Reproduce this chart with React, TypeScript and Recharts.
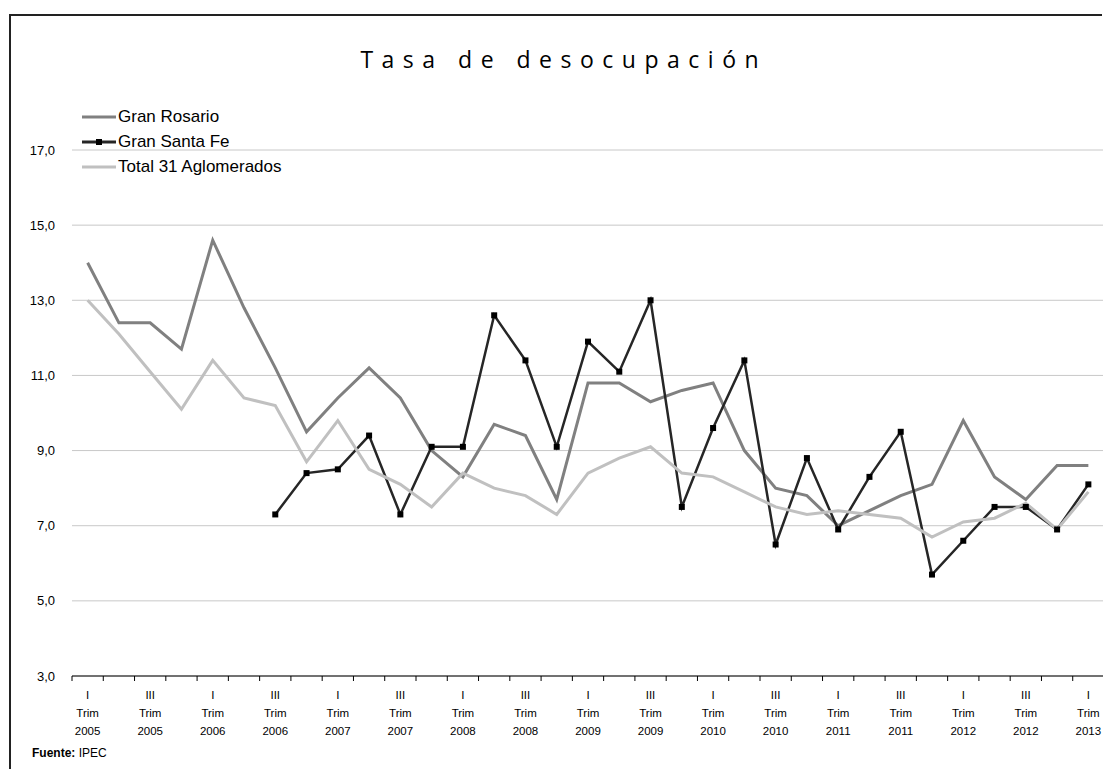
import React from "react";
import { LineChart, Line, XAxis, YAxis, CartesianGrid, Legend } from "recharts";

const categories = [
  "I Trim 2005", "II Trim 2005", "III Trim 2005", "IV Trim 2005",
  "I Trim 2006", "II Trim 2006", "III Trim 2006", "IV Trim 2006",
  "I Trim 2007", "II Trim 2007", "III Trim 2007", "IV Trim 2007",
  "I Trim 2008", "II Trim 2008", "III Trim 2008", "IV Trim 2008",
  "I Trim 2009", "II Trim 2009", "III Trim 2009", "IV Trim 2009",
  "I Trim 2010", "II Trim 2010", "III Trim 2010", "IV Trim 2010",
  "I Trim 2011", "II Trim 2011", "III Trim 2011", "IV Trim 2011",
  "I Trim 2012", "II Trim 2012", "III Trim 2012", "IV Trim 2012",
  "I Trim 2013",
];

const granRosario = [
  14.0, 12.4, 12.4, 11.7, 14.6, 12.8, 11.2, 9.5, 10.4, 11.2, 10.4, 9.0,
  8.3, 9.7, 9.4, 7.7, 10.8, 10.8, 10.3, 10.6, 10.8, 9.0, 8.0, 7.8,
  7.0, 7.4, 7.8, 8.1, 9.8, 8.3, 7.7, 8.6, 8.6,
];

const granSantaFe: (number | null)[] = [
  null, null, null, null, null, null, 7.3, 8.4, 8.5, 9.4, 7.3, 9.1,
  9.1, 12.6, 11.4, 9.1, 11.9, 11.1, 13.0, 7.5, 9.6, 11.4, 6.5, 8.8,
  6.9, 8.3, 9.5, 5.7, 6.6, 7.5, 7.5, 6.9, 8.1,
];

const total31 = [
  13.0, 12.1, 11.1, 10.1, 11.4, 10.4, 10.2, 8.7, 9.8, 8.5, 8.1, 7.5,
  8.4, 8.0, 7.8, 7.3, 8.4, 8.8, 9.1, 8.4, 8.3, 7.9, 7.5, 7.3,
  7.4, 7.3, 7.2, 6.7, 7.1, 7.2, 7.6, 6.9, 7.9,
];

const yTicks = [3, 5, 7, 9, 11, 13, 15, 17];

const data = categories.map((label, i) => ({
  label,
  rosario: granRosario[i],
  santaFe: granSantaFe[i],
  total: total31[i],
}));

const FONT = '"Liberation Sans", Arial, sans-serif';

const XTick = (props: any) => {
  const { x, y, payload, index, width, visibleTicksCount } = props;
  const count = visibleTicksCount || categories.length;
  const band = Number(width) / count;
  const parts = String(payload.value).split(" ");
  return (
    <g>
      <line x1={x - band / 2} y1={y} x2={x - band / 2} y2={y + 5} stroke="#000" strokeWidth={1} />
      {index === count - 1 && (
        <line x1={x + band / 2} y1={y} x2={x + band / 2} y2={y + 5} stroke="#000" strokeWidth={1} />
      )}
      {index % 2 === 0 && (
        <text textAnchor="middle" fontSize={11.5} fontFamily={FONT} fill="#000">
          {parts.map((p, i) => (
            <tspan key={i} x={x} y={y + 23 + i * 18}>
              {p}
            </tspan>
          ))}
        </text>
      )}
    </g>
  );
};

const SquareDot = (props: any) => {
  const { cx, cy, index } = props;
  if (cx == null || cy == null || props.value == null) return <g key={index} />;
  return <rect key={index} x={cx - 3} y={cy - 3} width={6} height={6} fill="#000" />;
};

const renderLegend = (props: any) => {
  const { payload } = props;
  return (
    <div style={{ fontFamily: FONT, fontSize: 17, color: "#000" }}>
      {payload.map((entry: any, i: number) => (
        <div key={i} style={{ display: "flex", alignItems: "center", height: 25 }}>
          <svg width={34} height={10} style={{ display: "block" }}>
            <line x1={0} y1={5} x2={34} y2={5} stroke={entry.color} strokeWidth={3} />
            {entry.dataKey === "santaFe" && <rect x={14} y={2} width={6} height={6} fill="#000" />}
          </svg>
          <span style={{ marginLeft: 2, whiteSpace: "nowrap" }}>{entry.value}</span>
        </div>
      ))}
    </div>
  );
};

export default function App() {
  return (
    <div
      style={{
        position: "fixed",
        left: 0,
        top: 0,
        width: 1103,
        height: 769,
        overflow: "hidden",
        background: "#fff",
      }}
    >
      <div
        style={{
          position: "absolute",
          left: 9,
          top: 14,
          width: 1091,
          height: 800,
          borderTop: "2px solid #222",
          borderLeft: "2px solid #222",
          pointerEvents: "none",
        }}
      />
      <div
        style={{
          position: "absolute",
          left: 0,
          top: 44,
          width: 1119,
          textAlign: "center",
          fontFamily: '"Open Sans", sans-serif',
          fontSize: 23,
          lineHeight: "30px",
          letterSpacing: 8.5,
          paddingLeft: 8.5,
          boxSizing: "border-box",
          color: "#000",
        }}
      >
        Tasa de desocupación
      </div>
      <div
        style={{
          position: "absolute",
          left: 32,
          top: 746,
          fontFamily: FONT,
          fontSize: 12,
          lineHeight: "14px",
          color: "#000",
          whiteSpace: "nowrap",
        }}
      >
        <b>Fuente:</b> IPEC
      </div>
      <div style={{ position: "absolute", left: 0, top: 0 }}>
        <LineChart
          width={1110}
          height={769}
          data={data}
          margin={{ top: 150, right: 6, bottom: 33, left: 12 }}
        >
          <CartesianGrid vertical={false} stroke="#c8c8c8" />
          <XAxis
            dataKey="label"
            scale="band"
            interval={0}
            axisLine={{ stroke: "#000", strokeWidth: 1 }}
            tickLine={false}
            tickSize={0}
            tickMargin={0}
            height={60}
            tick={<XTick />}
          />
          <YAxis
            domain={[3, 17]}
            ticks={yTicks}
            width={60}
            axisLine={false}
            tickLine={false}
            tickSize={0}
            tickMargin={17}
            tick={{ fontSize: 13, fontFamily: FONT, fill: "#000" }}
            tickFormatter={(v: number) => v.toFixed(1).replace(".", ",")}
            allowDataOverflow
          />
          <Legend
            layout="vertical"
            align="center"
            verticalAlign="middle"
            content={renderLegend}
            wrapperStyle={{ position: "absolute", left: 82, top: 104, width: "auto", height: "auto" }}
          />
          <Line
            type="linear"
            dataKey="rosario"
            name="Gran Rosario"
            stroke="#808080"
            strokeWidth={3}
            dot={false}
            isAnimationActive={false}
          />
          <Line
            type="linear"
            dataKey="santaFe"
            name="Gran Santa Fe"
            stroke="#262626"
            strokeWidth={2.5}
            dot={<SquareDot />}
            activeDot={false}
            isAnimationActive={false}
          />
          <Line
            type="linear"
            dataKey="total"
            name="Total 31 Aglomerados"
            stroke="#c0c0c0"
            strokeWidth={3}
            dot={false}
            isAnimationActive={false}
          />
        </LineChart>
      </div>
    </div>
  );
}
